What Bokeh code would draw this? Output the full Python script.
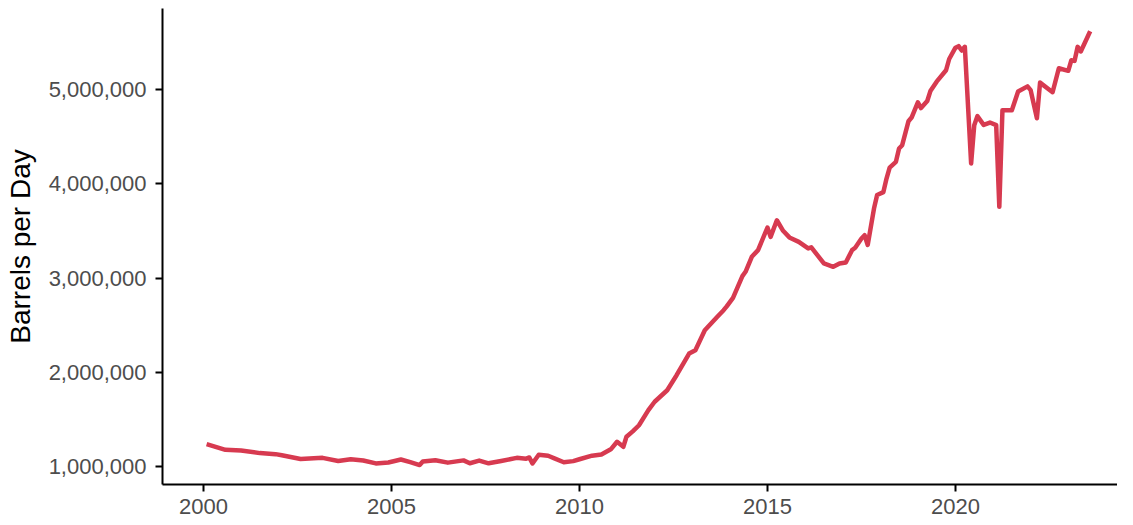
from bokeh.plotting import figure
from bokeh.models import Range1d, FixedTicker, NumeralTickFormatter, ColumnDataSource
from bokeh.embed import file_html
from bokeh.resources import INLINE

# Texas crude oil production, barrels per day
months = [
    "2000-02", "2000-08", "2001-01", "2001-07", "2001-12", "2002-02", "2002-08",
    "2003-03", "2003-08", "2003-12", "2004-04", "2004-08", "2004-12", "2005-04",
    "2005-07", "2005-10", "2005-11", "2006-03", "2006-07", "2006-12", "2007-02",
    "2007-05", "2007-08", "2007-12", "2008-05", "2008-08", "2008-09", "2008-10",
    "2008-12", "2009-03", "2009-05", "2009-08", "2009-11", "2010-01", "2010-05",
    "2010-08", "2010-11", "2011-01", "2011-03", "2011-04", "2011-06", "2011-08",
    "2011-11", "2012-01", "2012-05", "2012-08", "2012-12", "2013-02", "2013-05",
    "2013-09", "2013-11", "2013-12", "2014-02", "2014-05", "2014-06", "2014-08",
    "2014-10", "2015-01", "2015-02", "2015-04", "2015-06", "2015-08", "2015-11",
    "2016-02", "2016-03", "2016-07", "2016-10", "2016-12", "2017-02", "2017-04",
    "2017-05", "2017-07", "2017-08", "2017-09", "2017-11", "2017-12", "2018-02",
    "2018-03", "2018-04", "2018-06", "2018-07", "2018-08", "2018-10", "2018-11",
    "2019-01", "2019-02", "2019-04", "2019-05", "2019-07", "2019-10", "2019-11",
    "2020-01", "2020-02", "2020-03", "2020-04", "2020-06", "2020-07", "2020-08",
    "2020-10", "2020-12", "2021-02", "2021-03", "2021-04", "2021-07", "2021-09",
    "2021-12", "2022-01", "2022-03", "2022-04", "2022-08", "2022-10", "2023-01",
    "2023-02", "2023-03", "2023-04", "2023-05", "2023-08",
]
barrels_per_day = [
    1240000, 1180000, 1172000, 1145000, 1134000, 1122000, 1082000,
    1095000, 1062000, 1080000, 1067000, 1036000, 1046000, 1077000,
    1050000, 1018000, 1056000, 1070000, 1044000, 1068000, 1038000,
    1066000, 1037000, 1062000, 1095000, 1086000, 1099000, 1035000,
    1128000, 1117000, 1090000, 1048000, 1060000, 1080000, 1118000,
    1130000, 1185000, 1265000, 1212000, 1318000, 1375000, 1440000,
    1600000, 1689000, 1811000, 1970000, 2200000, 2235000, 2447000,
    2589000, 2659000, 2700000, 2790000, 3020000, 3066000, 3225000,
    3295000, 3535000, 3436000, 3612000, 3500000, 3430000, 3383000,
    3313000, 3325000, 3154000, 3119000, 3154000, 3165000, 3295000,
    3320000, 3418000, 3453000, 3350000, 3736000, 3880000, 3910000,
    4054000, 4170000, 4231000, 4372000, 4407000, 4660000, 4700000,
    4860000, 4800000, 4875000, 4980000, 5080000, 5201000, 5320000,
    5440000, 5456000, 5410000, 5449000, 4213000, 4619000, 4715000,
    4622000, 4647000, 4619000, 3754000, 4778000, 4778000, 4975000,
    5030000, 4990000, 4693000, 5070000, 4968000, 5222000, 5195000,
    5307000, 5300000, 5449000, 5400000, 5614000,
]
x_ticks = [2000, 2005, 2010, 2015, 2020]
y_ticks = [1000000, 2000000, 3000000, 4000000, 5000000]
y_title = "Barrels per Day"


def to_year(m):
    y, mo = m.split("-")
    return int(y) + (int(mo) - 1) / 12.0


src = ColumnDataSource(dict(t=[to_year(m) for m in months], v=barrels_per_day))

FONT = "Liberation Sans"

p = figure(
    width=1117, height=522, output_backend="svg", toolbar_location=None,
    x_range=Range1d(1998.91, 2024.31), y_range=Range1d(812500, 5855000),
    min_border_left=162, min_border_right=0, min_border_top=8, min_border_bottom=38,
)
p.outline_line_color = None
p.xgrid.visible = False
p.ygrid.visible = False
p.background_fill_color = "white"
p.border_fill_color = "white"

p.line("t", "v", source=src, line_color="#d73a50", line_width=4.5, line_join="round")

for ax in (p.xaxis[0], p.yaxis[0]):
    ax.axis_line_color = "black"
    ax.axis_line_width = 2
    ax.major_tick_line_color = "black"
    ax.major_tick_line_width = 2
    ax.major_tick_in = 0
    ax.minor_tick_line_color = None
    ax.major_label_text_font = FONT
    ax.major_label_text_font_size = "22px"
    ax.major_label_text_color = "#4d4d4d"

p.xaxis.ticker = FixedTicker(ticks=x_ticks)
p.xaxis.major_tick_out = 7
p.xaxis.major_label_standoff = 7

p.yaxis.ticker = FixedTicker(ticks=y_ticks)
p.yaxis.formatter = NumeralTickFormatter(format="0,0")
p.yaxis.major_tick_out = 7
p.yaxis.major_label_standoff = 9
p.yaxis.axis_label = y_title
p.yaxis.axis_label_text_font = FONT
p.yaxis.axis_label_text_font_size = "28px"
p.yaxis.axis_label_text_font_style = "normal"
p.yaxis.axis_label_text_color = "black"
p.yaxis.axis_label_standoff = 10

open("out.html", "w").write(file_html(p, INLINE))
